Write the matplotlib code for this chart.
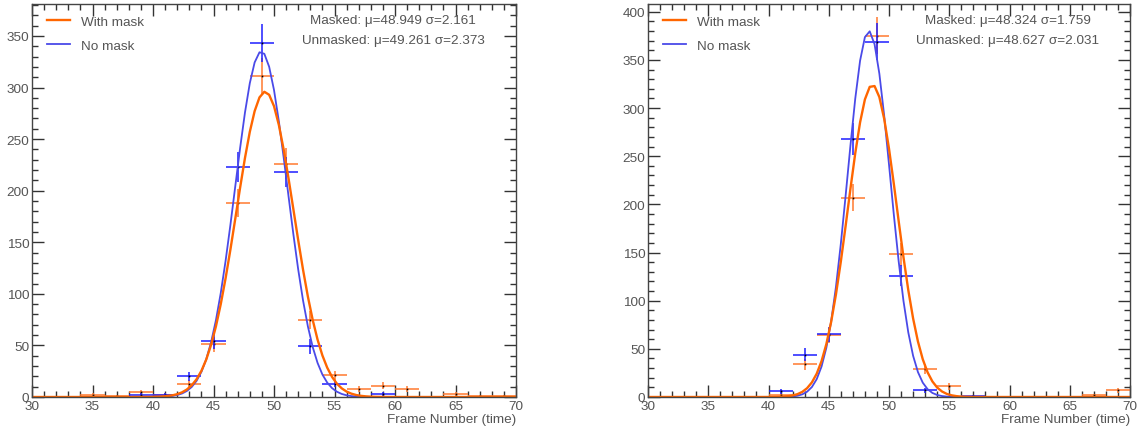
import numpy as np
import matplotlib
matplotlib.use("Agg")
import matplotlib.pyplot as plt
from matplotlib.ticker import MultipleLocator

plt.rcParams['font.family'] = ['Liberation Sans', 'DejaVu Sans']

# bin centres (bin width 2 frames)
centers = [31, 33, 35, 37, 39, 41, 43, 45, 47, 49,
           51, 53, 55, 57, 59, 61, 63, 65, 67, 69]

# left panel counts
left_mask = [0, 0, 2, 1, 5, 2, 13, 51, 188, 311, 226, 75, 21, 8, 11, 8, 0, 3, 1, 1]
left_nomask = [0, 0, 0, 0, 2, 2, 20, 54, 223, 343, 218, 49, 13, 0, 3, 0, 0, 0, 0, 0]
# right panel counts
right_mask = [0, 0, 0, 0, 0, 2, 34, 64, 207, 375, 148, 29, 11, 0, 0, 0, 0, 0, 2, 7]
right_nomask = [0, 0, 0, 0, 0, 6, 44, 65, 268, 369, 126, 7, 0, 1, 0, 0, 0, 0, 0, 0]

# gaussian fit parameters (amplitude, mean, sigma)
left_fit_mask = (296, 49.261, 2.373)
left_fit_nomask = (335, 48.949, 2.161)
right_fit_mask = (324, 48.627, 2.031)
right_fit_nomask = (380, 48.324, 1.759)

left_stats = ["Masked: \u03bc=48.949 \u03c3=2.161", "Unmasked: \u03bc=49.261 \u03c3=2.373"]
right_stats = ["Masked: \u03bc=48.324 \u03c3=1.759", "Unmasked: \u03bc=48.627 \u03c3=2.031"]

ORANGE = '#ff6600'
ORANGE_ERR = '#ff7a30'
BLUE = '#4a4ae8'
BLUE_ERR = '#1f1fff'
GREY = '#555555'
FS = 9.7


def gaus(x, p):
    a, mu, s = p
    return a * np.exp(-0.5 * ((x - mu) / s) ** 2)


def draw_hist(ax, counts, color):
    x = np.array(centers, dtype=float)
    y = np.array(counts, dtype=float)
    m = y > 0
    ax.errorbar(x[m], y[m], xerr=1, yerr=np.sqrt(y[m]), fmt='none',
                ecolor=color, elinewidth=1.3, alpha=0.85, capsize=0)
    ax.plot(x[m], y[m], 's', ms=1.2, color='k', mew=0)


def panel(ax, mask, nomask, fit_mask, fit_nomask, stats, ytop):
    draw_hist(ax, mask, ORANGE_ERR)
    draw_hist(ax, nomask, BLUE_ERR)
    xs = np.linspace(30, 70, 101)
    ax.plot(xs, gaus(xs, fit_nomask), color=BLUE, lw=1.3, label='No mask')
    ax.plot(xs, gaus(xs, fit_mask), color=ORANGE, lw=1.7, label='With mask')

    ax.set_xlim(30, 70)
    ax.set_ylim(0, ytop)
    ax.xaxis.set_major_locator(MultipleLocator(5))
    ax.xaxis.set_minor_locator(MultipleLocator(1))
    ax.yaxis.set_major_locator(MultipleLocator(50))
    ax.yaxis.set_minor_locator(MultipleLocator(10))
    ax.tick_params(which='both', direction='in', top=True, right=True,
                   colors='#333333', labelcolor=GREY, labelsize=FS)
    ax.tick_params(which='major', length=8.5, width=1)
    ax.tick_params(which='minor', length=4.3, width=1)
    ax.tick_params(axis='x', pad=2)
    ax.tick_params(axis='y', pad=2)
    for sp in ax.spines.values():
        sp.set_color('#444444')
        sp.set_linewidth(1)

    ax.set_xlabel('Frame Number (time)', fontsize=FS, color=GREY,
                  loc='right', labelpad=1)

    h, l = ax.get_legend_handles_labels()
    ax.legend(h[::-1], l[::-1], loc='upper left', frameon=False,
              fontsize=FS, handlelength=1.7, handletextpad=0.8,
              labelspacing=0.85, borderaxespad=0.0,
              bbox_to_anchor=(0.02, 0.985), labelcolor=GREY)

    ax.text(0.746, 0.96, stats[0], transform=ax.transAxes, ha='center',
            va='center', fontsize=FS, color=GREY)
    ax.text(0.746, 0.909, stats[1], transform=ax.transAxes, ha='center',
            va='center', fontsize=FS, color=GREY)


fig = plt.figure(figsize=(11.4, 4.31), dpi=100)
ax1 = fig.add_axes([32 / 1140, 33 / 431, 484 / 1140, 393 / 431])
ax2 = fig.add_axes([648 / 1140, 33 / 431, 482 / 1140, 393 / 431])

panel(ax1, left_mask, left_nomask, left_fit_mask, left_fit_nomask, left_stats, 381)
panel(ax2, right_mask, right_nomask, right_fit_mask, right_fit_nomask, right_stats, 408)

fig.savefig('out.png', dpi=100)
